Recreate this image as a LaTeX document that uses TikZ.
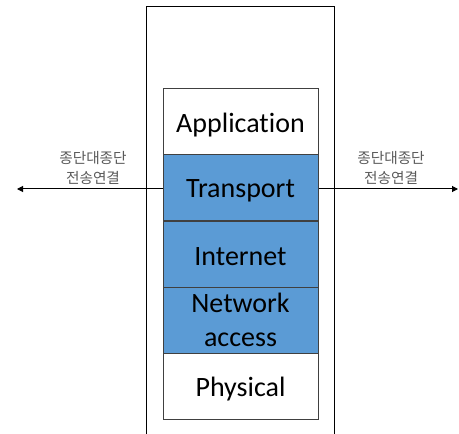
\documentclass[tikz,border=0pt]{standalone}
\usepackage{fontspec}
\setmainfont{Carlito}[Ligatures={NoCommon}]
\newfontfamily\krfont{Noto Sans CJK KR}
\usetikzlibrary{arrows.meta}
\definecolor{layerblue}{HTML}{5B9BD5}
\definecolor{edgegray}{HTML}{404040}
\definecolor{notegray}{HTML}{595959}
\begin{document}
\begin{tikzpicture}[x=0.75pt,y=-0.75pt,
  frame/.style={draw=black, line width=0.75pt},
  layer/.style={draw=edgegray, line width=0.75pt, minimum width=116.25pt,
    minimum height=49.5pt, inner sep=0pt},
  bluelayer/.style={layer, fill=layerblue},
  whitelayer/.style={layer, fill=white},
  layertext/.style={inner sep=0pt, align=center,
    font=\fontsize{21}{25.5}\selectfont},
  link/.style={draw=black, line width=0.75pt, -{Triangle[length=4.5pt,width=4.5pt]}},
  note/.style={align=center, text=notegray, inner sep=0pt,
    font=\krfont\fontsize{11}{15}\selectfont}]
\useasboundingbox (0,0) rectangle (459,434);
% host enclosure, open at the bottom
\draw[frame] (146,434) -- (146,7) -- (334,7) -- (334,434);
% protocol stack
\node[whitelayer] (app)  at (240.5,122) {};
\node[bluelayer]  (tr)   at (240.5,188) {};
\node[bluelayer]  (inet) at (240.5,254) {};
\node[bluelayer]  (na)   at (240.5,320) {};
\node[whitelayer] (phy)  at (240.5,386) {};
\node[layertext] (appt)  at ([yshift=-2.25pt]app.center)  {Application};
\node[layertext] (trt)   at ([yshift=-2.25pt]tr.center)   {Transport};
\node[layertext] (inett) at ([yshift=-2.25pt]inet.center) {Internet};
\node[layertext] (nat)   at (na.center)                   {Network\\access};
\node[layertext] (phyt)  at ([yshift=-2.25pt]phy.center)  {Physical};
% end-to-end connections
\coordinate (lend) at (17,189);
\coordinate (rend) at (458,189);
\draw[link] (tr.west |- lend) -- (lend);
\draw[link] (tr.east |- rend) -- (rend);
\node[note] (lnote) at (93,168) {종단대종단\\전송연결};
\node[note] (rnote) at (391,168) {종단대종단\\전송연결};
\end{tikzpicture}
\end{document}
